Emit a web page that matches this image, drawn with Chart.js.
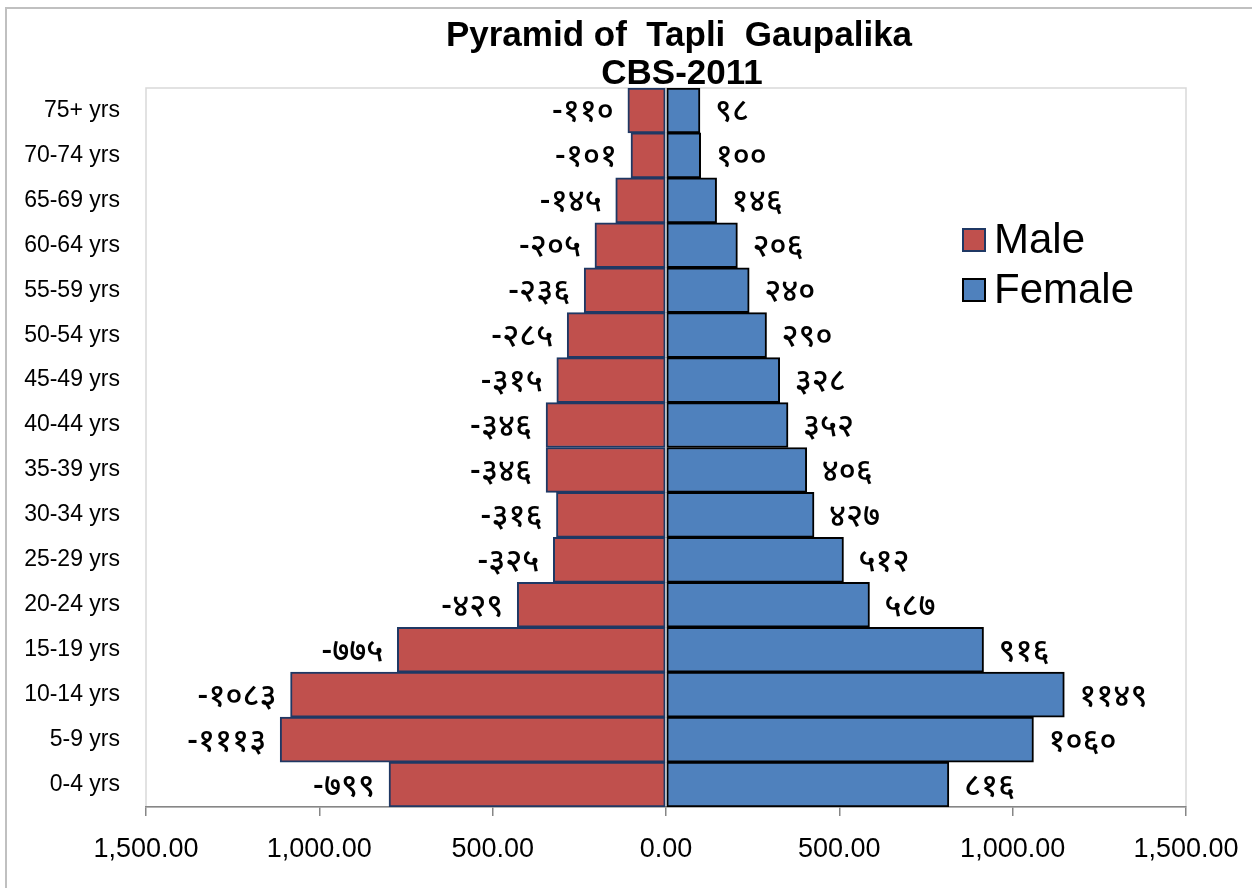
<!DOCTYPE html>
<html>
<head>
<meta charset="utf-8">
<script src="https://cdn.jsdelivr.net/npm/chart.js@4.4.1/dist/chart.umd.min.js"></script>
<style>
  html, body { margin: 0; padding: 0; background: #fff; }
  #wrap { width: 1252px; height: 888px; position: relative; }
</style>
</head>
<body>
<div id="wrap"><canvas id="c" width="1252" height="888"></canvas></div>
<script>
// ---- data (bottom to top) ----
const categories = ["0-4 yrs", "5-9 yrs", "10-14 yrs", "15-19 yrs", "20-24 yrs", "25-29 yrs", "30-34 yrs", "35-39 yrs",
  "40-44 yrs", "45-49 yrs", "50-54 yrs", "55-59 yrs", "60-64 yrs", "65-69 yrs", "70-74 yrs", "75+ yrs"];
const maleValues = [-799, -1113, -1083, -775, -429, -325, -316, -346, -346, -315, -285, -236, -205, -145, -101, -110];
const femaleValues = [816, 1060, 1149, 916, 587, 512, 427, 406, 352, 328, 290, 240, 206, 146, 100, 98];
const xTickValues = [-1500, -1000, -500, 0, 500, 1000, 1500];
const titleLines = ["Pyramid of  Tapli  Gaupalika", "CBS-2011"];
const seriesNames = ["Male", "Female"];

const FONT = "'Liberation Sans', Arial, sans-serif";
const DEVA = "'Noto Sans Devanagari', 'Lohit Devanagari', 'Mangal', 'Noto Sans', sans-serif";
const devDigits = ['०','१','२','३','४','५','६','७','८','९'];
function toDeva(v) {
  const s = String(Math.abs(v)).split('').map(d => devDigits[+d]).join('');
  return (v < 0 ? '-' : '') + s;
}

const MALE_FILL = '#C0504D', MALE_BORDER = '#1F3864';
const FEMALE_FILL = '#4F81BD', FEMALE_BORDER = '#000000';

const framePlugin = {
  id: 'frame',
  beforeDraw(chart) {
    const ctx = chart.ctx;
    ctx.save();
    ctx.fillStyle = '#fff';
    ctx.fillRect(0, 0, chart.width, chart.height);
    ctx.strokeStyle = '#c0c0c0';
    ctx.lineWidth = 2;
    ctx.strokeRect(6, 8, chart.width + 20, chart.height + 20);
    const a = chart.chartArea;
    ctx.strokeStyle = '#d9d9d9';
    ctx.lineWidth = 1.5;
    ctx.strokeRect(a.left, a.top, a.right - a.left, a.bottom - a.top);
    ctx.restore();
  },
  afterDraw(chart) {
    const ctx = chart.ctx;
    ctx.save();
    // title
    ctx.fillStyle = '#000';
    ctx.font = 'bold 35px ' + FONT;
    ctx.textAlign = 'center';
    ctx.textBaseline = 'alphabetic';
    ctx.fillText(titleLines[0], 679, 46);
    ctx.fillText(titleLines[1], 682, 84);
    // legend
    const ds = chart.data.datasets;
    const rows = [240, 290];
    ds.forEach((d, i) => {
      const y = rows[i];
      ctx.fillStyle = d.backgroundColor;
      ctx.fillRect(963, y - 11, 22, 22);
      ctx.strokeStyle = d.borderColor;
      ctx.lineWidth = 2;
      ctx.strokeRect(963, y - 11, 22, 22);
      ctx.fillStyle = '#000';
      ctx.font = '42px ' + FONT;
      ctx.textAlign = 'left';
      ctx.textBaseline = 'middle';
      ctx.fillText(d.label, 994, y + 1);
    });
    ctx.restore();
  },
  afterDatasetsDraw(chart) {
    const ctx = chart.ctx;
    ctx.save();
    ctx.fillStyle = '#000';
    ctx.font = '500 32px ' + DEVA;
    ctx.textBaseline = 'middle';
    chart.data.datasets.forEach((d, di) => {
      const meta = chart.getDatasetMeta(di);
      meta.data.forEach((el, i) => {
        const v = d.data[i];
        const txt = toDeva(v);
        if (v < 0) { ctx.textAlign = 'right'; ctx.fillText(txt, el.x - 14, el.y + 5); }
        else { ctx.textAlign = 'left'; ctx.fillText(txt, el.x + 15, el.y + 5); }
      });
    });
    ctx.restore();
  }
};

new Chart(document.getElementById('c'), {
  type: 'bar',
  data: {
    labels: categories,
    datasets: [
      { label: seriesNames[0], data: maleValues, backgroundColor: MALE_FILL, borderColor: MALE_BORDER, borderWidth: 2, borderSkipped: false },
      { label: seriesNames[1], data: femaleValues, backgroundColor: FEMALE_FILL, borderColor: FEMALE_BORDER, borderWidth: 2, borderSkipped: false }
    ]
  },
  plugins: [framePlugin],
  options: {
    indexAxis: 'y',
    responsive: false,
    animation: false,
    barPercentage: 1.0,
    categoryPercentage: 1.0,
    layout: { padding: { left: 0, right: 66, top: 88, bottom: 0 } },
    plugins: { legend: { display: false }, title: { display: false }, tooltip: { enabled: false } },
    scales: {
      x: {
        stacked: true,
        min: -1500, max: 1500,
        afterBuildTicks(scale) { scale.ticks = xTickValues.map(v => ({ value: v })); },
        afterFit(scale) { scale.height = 81; scale.paddingLeft = 0; scale.paddingRight = 0; },
        ticks: {
          color: '#000',
          font: { family: FONT, size: 27 },
          padding: 17,
          maxRotation: 0,
          autoSkip: false,
          callback: (v) => Math.abs(v).toLocaleString('en-US', { minimumFractionDigits: 2, maximumFractionDigits: 2 })
        },
        grid: { drawOnChartArea: false, drawTicks: true, tickLength: 9, color: '#868686', lineWidth: 1.5 },
        border: { color: '#868686', width: 1.5 }
      },
      y: {
        stacked: true,
        reverse: true,
        afterFit(scale) { scale.width = 146; scale.paddingTop = 0; scale.paddingBottom = 0; },
        ticks: { color: '#000', font: { family: FONT, size: 23 }, padding: 26, autoSkip: false },
        grid: { display: false, drawTicks: false },
        border: { display: false }
      }
    }
  }
});
</script>
</body>
</html>
